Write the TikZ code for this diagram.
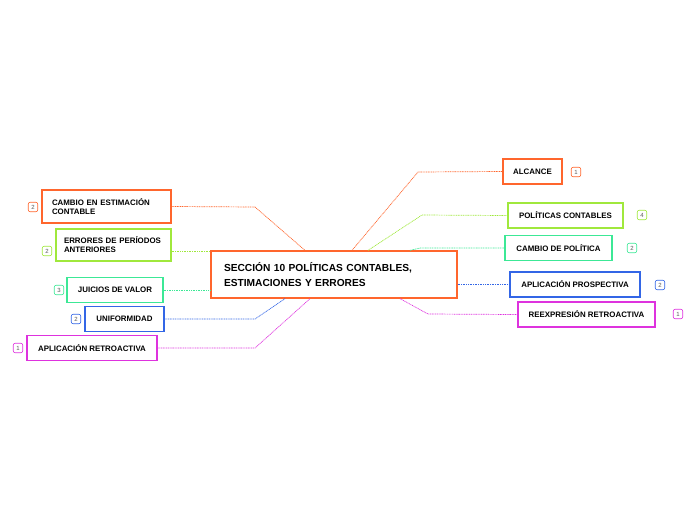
\documentclass[tikz,border=0pt]{standalone}
\usepackage{fontspec}
\setmainfont{Liberation Sans}
\usetikzlibrary{shadows}
\definecolor{corange}{RGB}{255,102,45}
\definecolor{clime}{RGB}{160,232,60}
\definecolor{cmint}{RGB}{60,232,150}
\definecolor{cblue}{RGB}{51,102,230}
\definecolor{cmagenta}{RGB}{222,50,222}

\begin{document}
\begin{tikzpicture}[x=1pt,y=-1pt,
    topic/.style={draw=#1, line width=1.3pt, fill=white, minimum height=25pt, inner xsep=8pt,
        font=\fontsize{7.9}{9}\selectfont\bfseries, align=left,
        drop shadow={opacity=0.25, shadow xshift=0.8pt, shadow yshift=-0.8pt}},
    badge/.style={draw=#1, line width=0.6pt, rounded corners=2pt, minimum size=9.5pt, inner sep=0pt,
        font=\fontsize{6}{6}\selectfont, text=black!65},
    link/.style={draw=#1, line width=0.7pt, dash pattern=on 1pt off 0.7pt}]
    \useasboundingbox (0,0) rectangle (696,520);

    % central topic
    \node[topic=corange, minimum width=246pt, minimum height=47pt, text width=220pt,
        inner xsep=13pt, font=\fontsize{10.2}{15}\selectfont\bfseries] (main) at (334,274.5)
        {SECCIÓN 10 POLÍTICAS CONTABLES,\\ESTIMACIONES Y ERRORES};

    % right branches
    \node[topic=corange, minimum width=59pt] (alcance) at (532.5,171.5) {ALCANCE};
    \node[topic=clime, minimum width=115pt] (politicas) at (565.5,215.5) {POLÍTICAS CONTABLES};
    \node[topic=cmint, minimum width=107pt] (cambiopol) at (558.5,248) {CAMBIO DE POLÍTICA};
    \node[topic=cblue, minimum width=130pt] (prosp) at (575,284.5) {APLICACIÓN PROSPECTIVA};
    \node[topic=cmagenta, minimum width=137pt] (reexp) at (586.5,314.5) {REEXPRESIÓN RETROACTIVA};

    % left branches
    \node[topic=corange, minimum width=129pt, minimum height=33pt, text width=109pt] (cambioest) at (106.5,206.5) {CAMBIO EN ESTIMACIÓN\\CONTABLE};
    \node[topic=clime, minimum width=115pt, minimum height=32pt, text width=99pt] (errores) at (113.5,245) {ERRORES DE PERÍODOS\\ANTERIORES};
    \node[topic=cmint, minimum width=96pt] (juicios) at (115,290) {JUICIOS DE VALOR};
    \node[topic=cblue, minimum width=79pt] (unif) at (124.5,319) {UNIFORMIDAD};
    \node[topic=cmagenta, minimum width=130pt] (retro) at (92,348) {APLICACIÓN RETROACTIVA};

    % counters
    \node[badge=corange] (n1) at (576,172) {1};
    \node[badge=clime] (n2) at (642,215) {4};
    \node[badge=cmint] (n3) at (632,248) {2};
    \node[badge=cblue] (n4) at (660,285) {2};
    \node[badge=cmagenta] (n5) at (678,314) {1};
    \node[badge=corange] (n6) at (33,207) {2};
    \node[badge=clime] (n7) at (47,251) {2};
    \node[badge=cmint] (n8) at (59,290) {3};
    \node[badge=cblue] (n9) at (76,319) {2};
    \node[badge=cmagenta] (n10) at (18,348) {1};

    % connectors
    \draw[link=corange] ([xshift=18pt]main.north) -- (418,172) -- (alcance.west);
    \draw[link=clime] ([xshift=34pt]main.north) -- (422,215) -- (politicas.west);
    \draw[link=cmint] ([xshift=76pt]main.north) -- (420,248) -- (cambiopol.west);
    \draw[link=cblue] (prosp.west -| main.east) -- (prosp.west);
    \draw[link=cmagenta] ([xshift=66pt]main.south) -- (428,314) -- (reexp.west);
    \draw[link=corange] (cambioest.east) -- (255,207) -- ([xshift=-29pt]main.north);
    \draw[link=clime] ([yshift=-6pt]errores.east) -- ([yshift=-6pt]errores.east -| main.west);
    \draw[link=cmint] (juicios.east) -- (juicios.east -| main.west);
    \draw[link=cblue] (unif.east) -- (255,319) -- ([xshift=-49pt]main.south);
    \draw[link=cmagenta] (retro.east) -- (255,348) -- ([xshift=-24pt]main.south);
\end{tikzpicture}
\end{document}
